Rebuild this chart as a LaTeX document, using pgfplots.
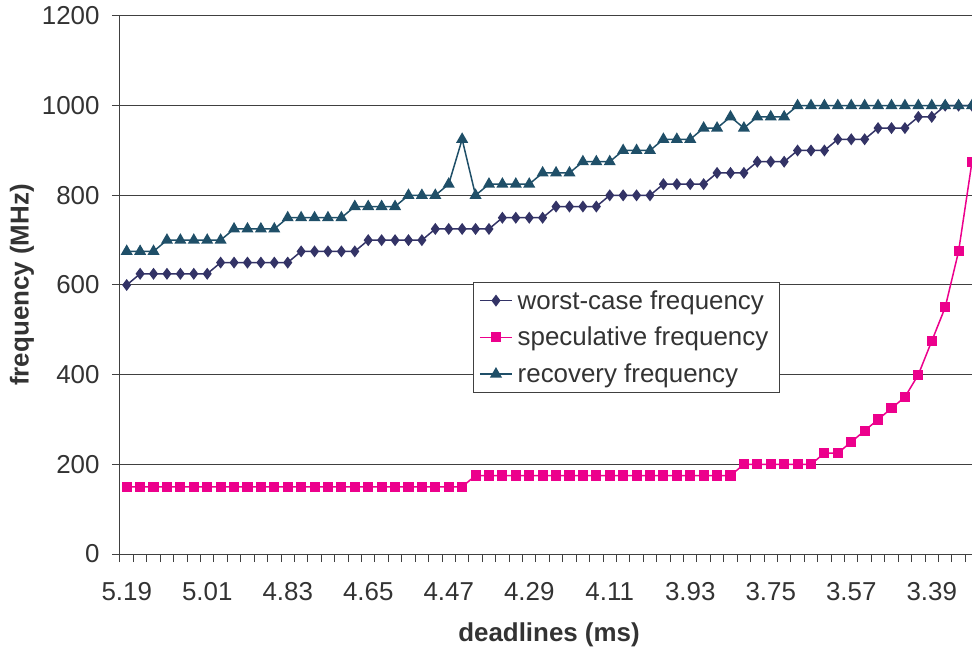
\documentclass[border=0pt]{standalone}
\usepackage{fontspec}
\setmainfont{Liberation Sans}
\usepackage{pgfplots}
\pgfplotsset{compat=1.18}
\usepackage{pgfplotstable}
\usetikzlibrary{calc}

\definecolor{worstc}{HTML}{333366}
\definecolor{specc}{HTML}{EC008C}
\definecolor{recc}{HTML}{1F4F68}
\definecolor{txt}{HTML}{333333}
\definecolor{gridc}{HTML}{404040}

% idx 0 -> 5.19 ms, each step -0.03 ms
\pgfplotstableread{
idx worst spec rec
0  600 150 675
1  625 150 675
2  625 150 675
3  625 150 700
4  625 150 700
5  625 150 700
6  625 150 700
7  650 150 700
8  650 150 725
9  650 150 725
10 650 150 725
11 650 150 725
12 650 150 750
13 675 150 750
14 675 150 750
15 675 150 750
16 675 150 750
17 675 150 775
18 700 150 775
19 700 150 775
20 700 150 775
21 700 150 800
22 700 150 800
23 725 150 800
24 725 150 825
25 725 150 925
26 725 175 800
27 725 175 825
28 750 175 825
29 750 175 825
30 750 175 825
31 750 175 850
32 775 175 850
33 775 175 850
34 775 175 875
35 775 175 875
36 800 175 875
37 800 175 900
38 800 175 900
39 800 175 900
40 825 175 925
41 825 175 925
42 825 175 925
43 825 175 950
44 850 175 950
45 850 175 975
46 850 200 950
47 875 200 975
48 875 200 975
49 875 200 975
50 900 200 1000
51 900 200 1000
52 900 225 1000
53 925 225 1000
54 925 250 1000
55 925 275 1000
56 950 300 1000
57 950 325 1000
58 950 350 1000
59 975 400 1000
60 975 475 1000
61 1000 550 1000
62 1000 675 1000
63 1000 875 1000
}\freqdata

\begin{document}
\begin{tikzpicture}[font=\fontsize{26}{31}\selectfont]
\begin{axis}[
  scale only axis,
  width=852bp, height=538bp,
  xmin=-0.5, xmax=63,
  ymin=0, ymax=1200,
  axis x line=bottom, axis y line=left,
  axis line style={-, draw=gridc, line width=1bp},
  ytick={0,200,...,1200},
  ymajorgrids,
  major grid style={draw=gridc, line width=1bp},
  tick align=outside,
  major tick length=8bp,
  minor tick length=8bp,
  every tick/.style={draw=gridc, line width=1bp},
  xtick={0,6,...,60},
  xticklabels={5.19,5.01,4.83,4.65,4.47,4.29,4.11,3.93,3.75,3.57,3.39},
  major x tick style={draw=none},
  minor xtick={-0.5,0.5,...,63.5},
  /pgf/number format/assume math mode=true,
  /pgf/number format/1000 sep={},
  yticklabel style={text=txt, xshift=-9bp},
  xticklabel style={text=txt, yshift=-17bp},
  xlabel={\bfseries deadlines (ms)},
  ylabel={\bfseries frequency (MHz)},
  every axis x label/.style={at={(rel axis cs:0.5,0)}, yshift=-81bp, xshift=3bp, anchor=center, text=txt},
  every axis y label/.style={at={(rel axis cs:0,0.5)}, xshift=-98bp, rotate=90, anchor=center, text=txt},
  legend style={at={(0.414,0.5056)}, anchor=north west, draw=gridc, line width=1bp,
    text=txt, row sep=12.5bp, inner xsep=6bp, inner ysep=6bp,
    nodes={inner xsep=5bp}},
  legend cell align=left,
  legend image code/.code={%
    \draw[mark repeat=2, mark phase=2] plot coordinates {(0bp,0bp) (16bp,0bp) (32bp,0bp)};},
]
\addplot[color=worstc, line width=1.5bp, mark=diamond*, mark size=4.8bp,
  mark options={solid}] table[x=idx, y=worst] {\freqdata};
\addlegendentry{worst-case frequency}
\addplot[color=specc, line width=1.5bp, mark=square*, mark size=4.3bp,
  mark options={solid}] table[x=idx, y=spec] {\freqdata};
\addlegendentry{speculative frequency}
\addplot[color=recc, line width=1.5bp, mark=triangle*, mark size=5.5bp,
  mark options={solid}] table[x=idx, y=rec] {\freqdata};
\addlegendentry{recovery frequency}
\end{axis}
\pgfresetboundingbox
\path[use as bounding box] ($(current axis.south west)+(-120bp,-99bp)$)
  rectangle ($(current axis.north east)+(0bp,16bp)$);
\end{tikzpicture}
\end{document}
